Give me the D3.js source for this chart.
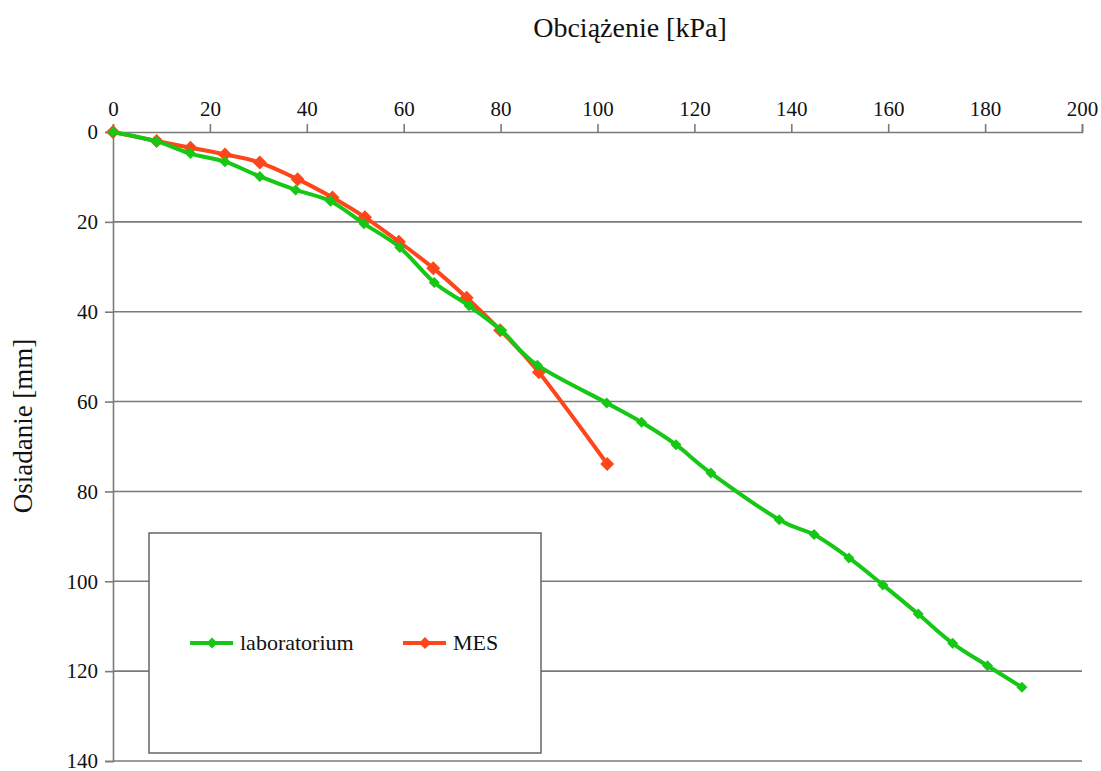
<!DOCTYPE html>
<html>
<head>
<meta charset="utf-8">
<script src="https://cdn.jsdelivr.net/npm/d3@7"></script>
<style>
  html, body { margin: 0; padding: 0; background: #fff; }
</style>
</head>
<body>
<svg id="chart" width="1101" height="771"></svg>
<script>
// Load (kPa) and settlement (mm) for the laboratory test
const labLoad = [0, 9.0, 16.0, 23.1, 30.3, 37.7, 44.9, 51.8, 59.2, 66.3, 73.5, 80.2, 87.6,
                 101.9, 109.1, 116.2, 123.4, 137.5, 144.7, 151.9, 158.9, 166.2, 173.3, 180.5, 187.6];
const labSettlement = [0, 2.1, 4.8, 6.6, 9.9, 12.9, 15.4, 20.4, 25.7, 33.5, 38.7, 44.2, 51.9,
                       60.3, 64.6, 69.6, 75.9, 86.3, 89.6, 94.8, 100.8, 107.3, 113.8, 118.8, 123.6];

// Load (kPa) and settlement (mm) from the FEM (MES) model
const mesLoad = [0, 9.0, 16.0, 23.1, 30.3, 38.1, 45.3, 52.0, 59.0, 66.1, 73.0, 79.9, 87.9, 102.0];
const mesSettlement = [0, 2.0, 3.5, 5.0, 6.8, 10.5, 14.6, 19.0, 24.4, 30.3, 36.9, 44.1, 53.5, 73.9];

const seriesNames = ["laboratorium", "MES"];
const xTicks = [0, 20, 40, 60, 80, 100, 120, 140, 160, 180, 200];
const yTicks = [0, 20, 40, 60, 80, 100, 120, 140];

const xTitle = "Obciążenie [kPa]";
const yTitle = "Osiadanie [mm]";

const FONT = "'Liberation Serif', 'DejaVu Serif', 'Times New Roman', serif";

const svg = d3.select("#chart");
const plot = { left: 113, right: 1082, top: 132, bottom: 761 };

const x = d3.scaleLinear().domain([0, 200]).range([plot.left, plot.right]);
const y = d3.scaleLinear().domain([0, 140]).range([plot.top, plot.bottom]);

const gridColor = "#7a7a7a";

// horizontal gridlines
svg.append("g")
  .selectAll("line")
  .data(yTicks.filter(d => d > 0))
  .join("line")
  .attr("x1", x(0)).attr("x2", x(200))
  .attr("y1", d => y(d)).attr("y2", d => y(d))
  .attr("stroke", gridColor).attr("stroke-width", 1.6);

// top axis (load)
const xAxis = svg.append("g")
  .attr("transform", `translate(0,${y(0)})`)
  .call(d3.axisTop(x).tickValues(xTicks).tickSizeOuter(0).tickSize(8).tickPadding(8).tickFormat(d3.format("d")));
xAxis.attr("font-family", null).attr("font-size", null);
xAxis.select(".domain").attr("stroke", gridColor).attr("stroke-width", 1.6);
xAxis.selectAll(".tick line").attr("stroke", gridColor).attr("stroke-width", 1.6);
xAxis.selectAll(".tick text")
  .style("font-family", FONT).style("font-size", "21px").attr("fill", "#111");

// left axis (settlement)
const yAxis = svg.append("g")
  .attr("transform", `translate(${x(0)},0)`)
  .call(d3.axisLeft(y).tickValues(yTicks).tickSizeOuter(0).tickSize(8).tickPadding(7).tickFormat(d3.format("d")));
yAxis.attr("font-family", null).attr("font-size", null);
yAxis.select(".domain").attr("stroke", gridColor).attr("stroke-width", 1.6);
yAxis.selectAll(".tick line").attr("stroke", gridColor).attr("stroke-width", 1.6);
yAxis.selectAll(".tick text")
  .style("font-family", FONT).style("font-size", "21px").attr("fill", "#111");

// axis titles
svg.append("text")
  .attr("x", 630).attr("y", 37)
  .attr("text-anchor", "middle")
  .style("font-family", FONT).style("font-size", "28px")
  .attr("fill", "#111")
  .text(xTitle);

svg.append("text")
  .attr("transform", `translate(32,426) rotate(-90)`)
  .attr("text-anchor", "middle")
  .style("font-family", FONT).style("font-size", "27px")
  .attr("fill", "#111")
  .text(yTitle);

// series
const colors = { lab: "#16c716", mes: "#ff461a" };
const line = d3.line()
  .x(d => x(d[0]))
  .y(d => y(d[1]))
  .curve(d3.curveCatmullRom.alpha(0));

const diamond = (s) => `M0,${-s}L${s},0L0,${s}L${-s},0Z`;

const mesPts = mesLoad.map((v, i) => [v, mesSettlement[i]]);
const labPts = labLoad.map((v, i) => [v, labSettlement[i]]);

function drawSeries(pts, color, size, width) {
  const g = svg.append("g");
  g.append("path")
    .datum(pts)
    .attr("d", line)
    .attr("fill", "none")
    .attr("stroke", color)
    .attr("stroke-width", width)
    .attr("stroke-linejoin", "round");
  g.selectAll("path.m")
    .data(pts)
    .join("path")
    .attr("class", "m")
    .attr("transform", d => `translate(${x(d[0])},${y(d[1])})`)
    .attr("d", diamond(size))
    .attr("fill", color);
}

drawSeries(mesPts, colors.mes, 7, 4);
drawSeries(labPts, colors.lab, 5.5, 4);

// legend
const legend = svg.append("g");
legend.append("rect")
  .attr("x", 149).attr("y", 533)
  .attr("width", 392).attr("height", 220)
  .attr("fill", "#fff")
  .attr("stroke", "#666").attr("stroke-width", 1.5);

const legendItems = [
  { name: seriesNames[0], color: colors.lab, x0: 190, size: 5.5 },
  { name: seriesNames[1], color: colors.mes, x0: 403, size: 6 }
];
legendItems.forEach(it => {
  legend.append("line")
    .attr("x1", it.x0).attr("x2", it.x0 + 43)
    .attr("y1", 643).attr("y2", 643)
    .attr("stroke", it.color).attr("stroke-width", 4);
  legend.append("path")
    .attr("transform", `translate(${it.x0 + 22},643)`)
    .attr("d", diamond(it.size))
    .attr("fill", it.color);
  legend.append("text")
    .attr("x", it.x0 + 50).attr("y", 650)
    .style("font-family", FONT).style("font-size", "22px")
    .attr("fill", "#111")
    .text(it.name);
});
</script>
</body>
</html>
